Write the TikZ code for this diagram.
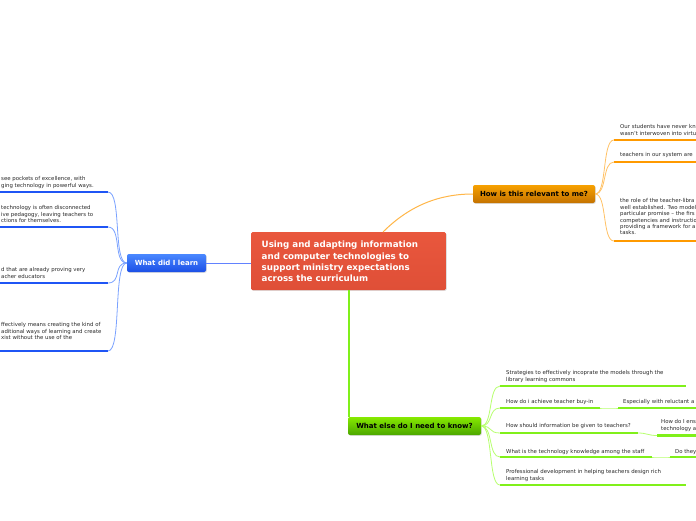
\documentclass[tikz,border=0pt]{standalone}
\usepackage{fontspec}
\setmainfont{DejaVu Sans}
\usetikzlibrary{shadows}
\definecolor{cred}{HTML}{E9573D}
\definecolor{credd}{HTML}{DF4F37}
\definecolor{bluetop}{HTML}{4A88FF}
\definecolor{bluebot}{HTML}{1B4FE6}
\definecolor{orgtop}{HTML}{F7A100}
\definecolor{orgbot}{HTML}{C47200}
\definecolor{grntop}{HTML}{86EA00}
\definecolor{grnbot}{HTML}{4CA600}
\definecolor{blueline}{HTML}{1F55F5}
\definecolor{blueconn}{HTML}{7AA2FF}
\definecolor{orgline}{HTML}{FF9A00}
\definecolor{orgconn}{HTML}{FFC266}
\definecolor{grnline}{HTML}{80F01A}
\definecolor{grnconn}{HTML}{B8FF70}
\definecolor{leaftext}{HTML}{2A2A2A}
\tikzset{
  branchbox/.style={rounded corners=2pt, minimum height=18pt, inner sep=0pt,
    font=\fontsize{7}{8}\selectfont\bfseries, drop shadow={opacity=0.25,shadow xshift=0.8pt,shadow yshift=-0.8pt}},
  bluebox/.style={branchbox, top color=bluetop, bottom color=bluebot, text=white, minimum width=79pt},
  orgbox/.style={branchbox, top color=orgtop, bottom color=orgbot, text=black, minimum width=122pt},
  grnbox/.style={branchbox, top color=grntop, bottom color=grnbot, text=black, minimum width=133pt},
  leaf/.style={anchor=north west, inner sep=0pt, align=left, text=leaftext,
    font=\fontsize{5.4}{6.4}\selectfont},
  bline/.style={draw=blueline, line width=2.6pt},
  oline/.style={draw=orgline, line width=2.6pt},
  gline/.style={draw=grnline, line width=2.6pt},
  bconn/.style={draw=blueconn, line width=0.8pt},
  oconn/.style={draw=orgconn, line width=0.8pt},
  gconn/.style={draw=grnconn, line width=0.8pt},
}
\begin{document}
\begin{tikzpicture}[x=1pt,y=-1pt]
\useasboundingbox[fill=white] (0,0) rectangle (696,520);

% central node
\node[rounded corners=1.5pt, top color=cred, bottom color=credd, minimum width=195pt, minimum height=58pt,
  inner sep=0pt, drop shadow={opacity=0.25,shadow xshift=0.8pt,shadow yshift=-0.8pt}] (center) at (348.5,261) {};
\node[anchor=north west, inner sep=0pt, align=left, text=white,
  font=\fontsize{8.7}{11.3}\selectfont\bfseries] (ctext) at (261.5,241)
  {Using and adapting information\\and computer technologies to\\support ministry expectations\\across the curriculum};

% main branch nodes
\node[bluebox] (learn) at (166.5,263) {What did I learn};
\node[orgbox] (relev) at (534,194) {How is this relevant to me?};
\node[grnbox] (know) at (414.5,426) {What else do I need to know?};

\draw[draw=blueconn!80!blue, line width=1pt] (center.west |- learn.east) -- (learn.east);
\coordinate (ctop) at (383,232);
\draw[orgconn!70!orgline, line width=1pt] (ctop) .. controls (410,205) and (440,194) .. (relev.west);
\coordinate (cbot) at (349,290);
\draw[grnline, line width=1.6pt] (cbot) -- (349,417);

% blue leaves
\coordinate (b1) at (108,192); \coordinate (b1s) at (0,192);
\coordinate (b2) at (108,227); \coordinate (b2s) at (0,227);
\coordinate (b3) at (108,283); \coordinate (b3s) at (0,283);
\coordinate (b4) at (108,351); \coordinate (b4s) at (0,351);
\foreach \b in {b1,b2,b3,b4}{
  \draw[bline] (\b s) -- (\b);
  \draw[bconn] (learn.west) .. controls +(-14,0) and +(14,0) .. (\b);
}
\node[leaf] (tb1) at (1,176.5) {see pockets of excellence, with\\ging technology in powerful ways.};
\node[leaf] (tb2) at (1,205.5) {technology is often disconnected\\ive pedagogy, leaving teachers to\\ctions for themselves.};
\node[leaf] (tb3) at (1,267.5) {d that are already proving very\\acher educators};
\node[leaf] (tb4) at (1,322.5) {ffectively means creating the kind of\\aditional ways of learning and create\\xist without the use of the};

% orange leaves
\coordinate (o1) at (614,140); \coordinate (o1e) at (696,140);
\coordinate (o2) at (614,162); \coordinate (o2e) at (696,162);
\coordinate (o3) at (614,241); \coordinate (o3e) at (696,241);
\foreach \o in {o1,o2,o3}{
  \draw[oline] (\o) -- (\o e);
  \draw[oconn] (relev.east) .. controls +(12,0) and +(-12,0) .. (\o);
}
\node[leaf] (to1) at (620,124.5) {Our students have never kn\\wasn't interwoven into virtu};
\node[leaf] (to2) at (620,152.5) {teachers in our system are};
\node[leaf] (to3) at (620,198.5) {the role of the teacher-libra\\well established. Two model\\particular promise -- the firs\\competencies and instructio\\providing a framework for a\\tasks.};

% green leaves
\coordinate (g1) at (500,386); \coordinate (g1e) at (686,386);
\coordinate (g2) at (500,408); \coordinate (g2e) at (600,408);
\coordinate (g3) at (500,433); \coordinate (g3e) at (638,433);
\coordinate (g4) at (500,457); \coordinate (g4e) at (652,457);
\coordinate (g5) at (500,485); \coordinate (g5e) at (686,485);
\foreach \g in {g1,g2,g3,g4,g5}{
  \draw[gline] (\g) -- (\g e);
  \draw[gconn] (know.east) .. controls +(12,0) and +(-12,0) .. (\g);
}
\node[leaf] (tg1) at (506,370.5) {Strategies to effectively incoprate the models through the\\library learning commons};
\node[leaf] (tg2) at (506,399.5) {How do i achieve teacher buy-in};
\node[leaf] (tg3) at (506,423.5) {How should information be given to teachers?};
\node[leaf] (tg4) at (506,449.5) {What is the technology knowledge among the staff};
\node[leaf] (tg5) at (506,469.5) {Professional development in helping teachers design rich\\learning tasks};

% green sub-leaves
\coordinate (s2) at (618,408); \coordinate (s2e) at (696,408);
\coordinate (s3) at (657,435.5); \coordinate (s3e) at (696,435.5);
\coordinate (s4) at (670,457); \coordinate (s4e) at (696,457);
\draw[gline] (s2) -- (s2e);
\draw[gline] (s3) -- (s3e);
\draw[gline] (s4) -- (s4e);
\draw[gconn] (g2e) .. controls +(8,0) and +(-8,0) .. (s2);
\draw[gconn] (g3e) .. controls +(9,0) and +(-9,0) .. (s3);
\draw[gconn] (g4e) .. controls +(8,0) and +(-8,0) .. (s4);
\node[leaf] (ts2) at (623,399.5) {Especially with reluctant a};
\node[leaf] (ts3) at (661,419.5) {How do I ens\\technology a};
\node[leaf] (ts4) at (675,449.5) {Do they};
\end{tikzpicture}
\end{document}
